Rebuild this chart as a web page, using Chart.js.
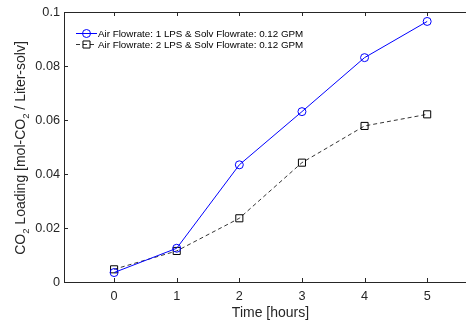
<!DOCTYPE html>
<html>
<head>
<meta charset="utf-8">
<script src="https://cdn.jsdelivr.net/npm/chart.js@4/dist/chart.umd.min.js"></script>
<style>
  html, body { margin: 0; padding: 0; background: #fff; overflow: hidden; }
  #wrap { width: 466px; height: 320px; }
</style>
</head>
<body>
<div id="wrap"><canvas id="test"></canvas></div>
<script>
const hours = [0, 1, 2, 3, 4, 5];
const air1 = [0.0035, 0.0125, 0.0434, 0.0631, 0.0831, 0.0965];
const air2 = [0.0047, 0.0115, 0.0236, 0.0442, 0.0578, 0.0621];
const yTicks = [0, 0.02, 0.04, 0.06, 0.08, 0.1];
const xTicks = [0, 1, 2, 3, 4, 5];
const seriesNames = [
    'Air Flowrate: 1 LPS & Solv Flowrate: 0.12 GPM',
    'Air Flowrate: 2 LPS & Solv Flowrate: 0.12 GPM'
];

const axisColor = '#262626';
const fontName = '"Liberation Sans", Arial, sans-serif';

// inward ticks, top border, legend and axis titles
const matlabLook = {
    id: 'matlabLook',
    afterDraw(chart) {
        const ctx = chart.ctx;
        const a = chart.chartArea;
        const xs = chart.scales.x, ys = chart.scales.y;
        ctx.save();
        ctx.strokeStyle = axisColor;
        ctx.lineWidth = 1;
        ctx.beginPath();
        ctx.moveTo(a.left, a.top + 0.5);
        ctx.lineTo(a.right, a.top + 0.5);
        xTicks.forEach(t => {
            const px = Math.round(xs.getPixelForValue(t)) + 0.5;
            ctx.moveTo(px, a.bottom); ctx.lineTo(px, a.bottom - 4);
            ctx.moveTo(px, a.top); ctx.lineTo(px, a.top + 4);
        });
        yTicks.forEach(t => {
            const py = Math.round(ys.getPixelForValue(t)) + 0.5;
            ctx.moveTo(a.left, py); ctx.lineTo(a.left + 4, py);
        });
        ctx.stroke();

        // legend
        const ds = chart.data.datasets;
        ctx.font = '9.8px ' + fontName;
        ctx.textBaseline = 'middle';
        ds.forEach((d, i) => {
            const y = 33.5 + i * 11;
            ctx.strokeStyle = d.borderColor;
            ctx.lineWidth = d.borderWidth;
            ctx.setLineDash(d.borderDash || []);
            ctx.beginPath();
            ctx.moveTo(76, y); ctx.lineTo(97, y);
            ctx.stroke();
            ctx.setLineDash([]);
            ctx.lineWidth = 1;
            ctx.fillStyle = 'rgba(0,0,0,0)';
            Chart.helpers.drawPoint(ctx, {
                pointStyle: d.pointStyle, radius: d.pointRadius, borderWidth: 1
            }, 86.5, y);
            ctx.fillStyle = '#000';
            ctx.fillText(seriesNames[i], 98, y + 0.5);
        });

        // axis titles
        ctx.fillStyle = axisColor;
        ctx.textBaseline = 'alphabetic';
        ctx.font = '14px ' + fontName;
        ctx.textAlign = 'center';
        ctx.fillText('Time [hours]', 270.5, 317);

        const parts = [['CO', 0], ['2', 1], [' Loading [mol-CO', 0], ['2', 1], [' / Liter-solv]', 0]];
        const fontFor = s => (s ? '9.5px ' : '14px ') + fontName;
        let total = 0;
        parts.forEach(p => { ctx.font = fontFor(p[1]); total += ctx.measureText(p[0]).width; });
        ctx.translate(25, 148);
        ctx.rotate(-Math.PI / 2);
        ctx.textAlign = 'left';
        let x = -total / 2;
        parts.forEach(p => {
            ctx.font = fontFor(p[1]);
            ctx.fillText(p[0], x, p[1] ? 4 : 0);
            x += ctx.measureText(p[0]).width;
        });
        ctx.restore();
    }
};

new Chart(
    document.getElementById('test'),
    {
        type: 'line',
        data: {
            datasets: [
                {
                    label: seriesNames[0],
                    data: hours.map((h, i) => ({x: h, y: air1[i]})),
                    borderColor: '#0000ff',
                    borderWidth: 1,
                    pointStyle: 'circle',
                    pointRadius: 4,
                    pointBorderColor: '#0000ff',
                    pointBackgroundColor: 'rgba(0,0,0,0)',
                    pointBorderWidth: 1,
                    fill: false,
                    tension: 0
                },
                {
                    label: seriesNames[1],
                    data: hours.map((h, i) => ({x: h, y: air2[i]})),
                    borderColor: '#000000',
                    borderWidth: 0.8,
                    borderDash: [4, 3],
                    pointStyle: 'rect',
                    pointRadius: 5,
                    pointBorderColor: '#000000',
                    pointBackgroundColor: 'rgba(0,0,0,0)',
                    pointBorderWidth: 1,
                    fill: false,
                    tension: 0
                }
            ]
        },
        options: {
            responsive: true,
            maintainAspectRatio: false,
            animation: false,
            layout: { autoPadding: false, padding: { top: 12, right: 0, left: 0, bottom: 0 } },
            plugins: { legend: { display: false }, tooltip: { enabled: false } },
            scales: {
                x: {
                    type: 'linear',
                    min: -0.8,
                    max: 5.62,
                    afterBuildTicks: s => { s.ticks = xTicks.map(v => ({value: v})); },
                    afterFit: s => { s.height = 38; s.paddingLeft = 0; s.paddingRight = 0; },
                    grid: { display: false, drawTicks: false },
                    border: { display: true, color: axisColor, width: 1 },
                    ticks: {
                        color: axisColor,
                        font: { family: fontName, size: 12.7 },
                        padding: 7,
                        maxRotation: 0,
                        callback: v => String(v)
                    }
                },
                y: {
                    min: 0,
                    max: 0.1,
                    afterBuildTicks: s => { s.ticks = yTicks.map(v => ({value: v})); },
                    afterFit: s => { s.width = 64; s.paddingTop = 0; s.paddingBottom = 0; },
                    grid: { display: false, drawTicks: false },
                    border: { display: true, color: axisColor, width: 1 },
                    ticks: {
                        color: axisColor,
                        font: { family: fontName, size: 12.7 },
                        padding: 4,
                        callback: v => String(+v.toFixed(2))
                    }
                }
            }
        },
        plugins: [matlabLook]
    }
);
</script>
</body>
</html>
